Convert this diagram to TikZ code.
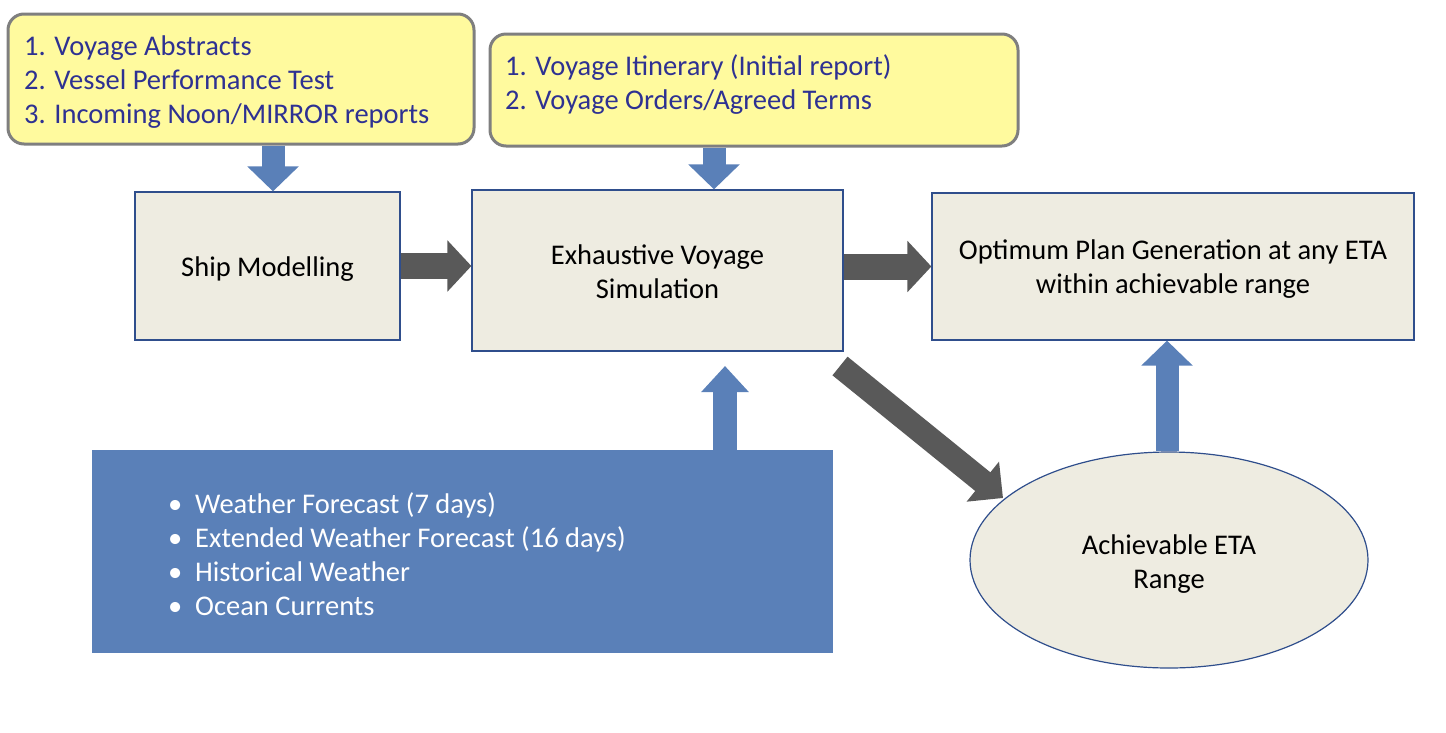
\documentclass[tikz,border=0pt]{standalone}
\usepackage{fontspec}
\setmainfont{Carlito}
\usetikzlibrary{arrows.meta,shapes.geometric}
\definecolor{yfill}{HTML}{FFFA9E}
\definecolor{yline}{HTML}{7F7F7F}
\definecolor{ytext}{HTML}{2E3192}
\definecolor{bfill}{HTML}{EEECE1}
\definecolor{bline}{HTML}{2F4E8C}
\definecolor{blu}{HTML}{5A80B8}
\definecolor{gry}{HTML}{595959}
\newcommand\bul{\makebox[27pt][l]{\raisebox{0pt}{•}}}
\begin{document}
\begin{tikzpicture}[x=1pt,y=-1pt,
 ybox/.style={draw=yline, line width=3pt, fill=yfill, rounded corners=16pt, inner sep=0pt},
 pbox/.style={draw=bline, line width=1.2pt, fill=bfill, inner sep=0pt},
 txt/.style={font=\fontsize{28.5}{34}\selectfont, inner sep=0pt, align=left},
 ctxt/.style={txt, align=center},
 barrow/.style={draw=blu, line width=23pt, -{Triangle[length=25pt,width=50pt]}},
 garrow/.style={draw=gry, line width=26pt, -{Triangle[length=24pt,width=50pt]}},
]
\useasboundingbox (0,0) rectangle (1446,732);
% yellow input boxes
\node[ybox, minimum width=466pt, minimum height=130pt] (y1) at (241,79) {};
\node[txt, text=ytext, anchor=west] (y1t) at (24,82) {1. Voyage Abstracts\\2. Vessel Performance Test\\3. Incoming Noon/MIRROR reports};
\node[ybox, minimum width=528pt, minimum height=112pt] (y2) at (754,90) {};
\node[txt, text=ytext, anchor=west] (y2t) at (505,84.5) {1. Voyage Itinerary (Initial report)\\2. Voyage Orders/Agreed Terms};
% process boxes
\node[pbox, minimum width=265pt, minimum height=148pt] (ship) at (267.5,266) {};
\node[ctxt] (shipt) at ([yshift=-3pt]ship.center) {Ship Modelling};
\node[pbox, minimum width=371pt, minimum height=161pt] (exh) at (657.5,270.5) {};
\node[ctxt] (exht) at ([yshift=-1pt]exh.center) {Exhaustive Voyage\\Simulation};
\node[pbox, minimum width=482pt, minimum height=147pt] (opt) at (1173,266.5) {};
\node[ctxt] (optt) at ([yshift=-3pt]opt.center) {Optimum Plan Generation at any ETA\\within achievable range};
\node[pbox, ellipse, minimum width=398pt, minimum height=216pt] (ach) at (1169,560) {};
\node[ctxt] (acht) at ([yshift=-4pt]ach.center) {Achievable ETA\\Range};
% weather box
\node[fill=blu, minimum width=741pt, minimum height=203pt, inner sep=0pt] (wx) at (462.5,551.5) {};
\node[txt, text=white, anchor=west] (wxt) at (168,554) {\bul Weather Forecast (7 days)\\\bul Extended Weather Forecast (16 days)\\\bul Historical Weather\\\bul Ocean Currents};
% connectors
\coordinate (a1) at (y1.south -| 273,0);
\draw[barrow] (a1) -- (a1 |- ship.north);
\coordinate (a2) at (y2.south -| 714,0);
\draw[barrow] (a2) -- (a2 |- exh.north);
\coordinate (a3) at (wx.north -| 725,0);
\coordinate (a3e) at (725,366);
\draw[draw=blu, line width=24pt, -{Triangle[length=26pt,width=46pt]}] (a3) -- (a3e);
\draw[barrow] (ach.north -| 1167,0) -- (opt.south -| 1167,0);
\draw[garrow] (ship.east) -- (ship.east -| exh.west);
\draw[garrow] (exh.east |- opt.west) -- (opt.west);
\coordinate (d1) at (840,366);
\coordinate (d2) at (1003,498);
\draw[draw=gry, line width=24pt, -{Triangle[length=26pt,width=50pt]}] (d1) -- (d2);
\end{tikzpicture}
\end{document}
